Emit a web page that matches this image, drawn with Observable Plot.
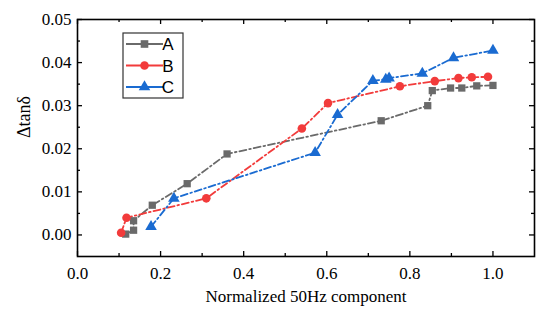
<!DOCTYPE html>
<html><head><meta charset="utf-8">
<script src="https://cdn.jsdelivr.net/npm/d3@7"></script>
<script src="https://cdn.jsdelivr.net/npm/@observablehq/plot@0.6"></script>
<style>body{margin:0;background:#fff}#chart{width:550px;height:320px}</style>
</head><body><div id="chart"></div>
<script>
// ---- data ----
const seriesNames = ["A", "B", "C"];
const seriesColors = ["#6a6a6a", "#f23b3b", "#1a6bd1"];
const seriesSymbols = ["square", "circle", "triangle"];

const xA = [0.116, 0.135, 0.135, 0.180, 0.264, 0.360, 0.731, 0.843, 0.854, 0.898, 0.925, 0.961, 1.000];
const yA = [0.0002, 0.0011, 0.0033, 0.0069, 0.0119, 0.0188, 0.0265, 0.0300, 0.0335, 0.0341, 0.0341, 0.0346, 0.0347];

const xB = [0.105, 0.118, 0.310, 0.540, 0.603, 0.776, 0.860, 0.917, 0.949, 0.988];
const yB = [0.0005, 0.0040, 0.0085, 0.0247, 0.0306, 0.0345, 0.0357, 0.0364, 0.0366, 0.0367];

const xC = [0.177, 0.232, 0.572, 0.626, 0.711, 0.742, 0.750, 0.830, 0.905, 1.000];
const yC = [0.0019, 0.0085, 0.0191, 0.0279, 0.0358, 0.0361, 0.0364, 0.0375, 0.0411, 0.0428];

const xMajorTicks = [0, 0.2, 0.4, 0.6, 0.8, 1.0];
const xMinorTicks = [0.1, 0.3, 0.5, 0.7, 0.9];
const yMajorTicks = [0, 0.01, 0.02, 0.03, 0.04, 0.05];
const yMinorTicks = [0.005, 0.015, 0.025, 0.035, 0.045];

const xTitle = "Normalized 50Hz component";
const yTitle = "Δtanδ";

// ---- build ----
const xDomain = [0, 1.1], yDomain = [-0.005, 0.05];
const W = 550, H = 320, mL = 77, mR = 16, mT = 19, mB = 64;
const pxX = (xDomain[1] - xDomain[0]) / (W - mL - mR);
const pxY = (yDomain[1] - yDomain[0]) / (H - mT - mB);
const majLen = 5, minLen = 3;

const toRows = (xs, ys, s) => xs.map((x, i) => ({x, y: ys[i], s}));
const sets = [toRows(xA, yA, "A"), toRows(xB, yB, "B"), toRows(xC, yC, "C")];

const serif = "Liberation Serif";
const dash = "7,3,1.6,3";

function tickRules(ticks, len) {
  return [
    Plot.ruleX(ticks, {x: d => d, y1: yDomain[0], y2: yDomain[0] + len * pxY, stroke: "black", strokeWidth: 1.3}),
    Plot.ruleX(ticks, {x: d => d, y1: yDomain[1], y2: yDomain[1] - len * pxY, stroke: "black", strokeWidth: 1.3})
  ];
}
function tickRulesY(ticks, len) {
  return [
    Plot.ruleY(ticks, {y: d => d, x1: xDomain[0], x2: xDomain[0] + len * pxX, stroke: "black", strokeWidth: 1.3}),
    Plot.ruleY(ticks, {y: d => d, x1: xDomain[1], x2: xDomain[1] - len * pxX, stroke: "black", strokeWidth: 1.3})
  ];
}

const marks = [];
sets.forEach((rows, i) => {
  marks.push(Plot.line(rows, {x: "x", y: "y", stroke: seriesColors[i], strokeWidth: 1.8, strokeDasharray: dash}));
});
sets.forEach((rows, i) => {
  const r = seriesSymbols[i] === "square" ? 4.1 : 4.3;
  marks.push(Plot.dot(rows, {x: "x", y: "y", symbol: seriesSymbols[i], fill: seriesColors[i], r, stroke: "none"}));
});
marks.push(
  ...tickRules(xMajorTicks, majLen), ...tickRules(xMinorTicks, minLen),
  ...tickRulesY(yMajorTicks, majLen), ...tickRulesY(yMinorTicks, minLen),
  Plot.frame({stroke: "black", strokeWidth: 1.6}),
  Plot.text(xMajorTicks, {x: d => d, y: yDomain[0], dy: 17, text: d => d3.format(".1f")(d), fontSize: 17, fontFamily: serif, fill: "black"}),
  Plot.text(yMajorTicks, {x: xDomain[0], y: d => d, dx: -6, textAnchor: "end", text: d => d3.format(".2f")(d), fontSize: 17, fontFamily: serif, fill: "black"}),
  Plot.text([xTitle], {text: d => d, frameAnchor: "bottom", dy: 45, fontSize: 17, fontFamily: serif, fill: "black"}),
  Plot.text([yTitle], {text: d => d, frameAnchor: "left", dx: -53, rotate: -90, fontSize: 18, fontFamily: serif, fill: "black"})
);

const chart = Plot.plot({
  width: W, height: H, marginLeft: mL, marginRight: mR, marginTop: mT, marginBottom: mB,
  x: {domain: xDomain, axis: null}, y: {domain: yDomain, axis: null},
  style: {background: "white", overflow: "visible"},
  marks
});
document.getElementById("chart").appendChild(chart);

// ---- legend ----
const svg = d3.select(chart);
const lg = svg.append("g").attr("transform", "translate(123,33)");
lg.append("rect").attr("width", 60).attr("height", 65).attr("fill", "white").attr("stroke", "#333").attr("stroke-width", 1.2);
seriesNames.forEach((name, i) => {
  const cy = 11 + i * 21.5;
  lg.append("line").attr("x1", 3).attr("x2", 40).attr("y1", cy).attr("y2", cy)
    .attr("stroke", seriesColors[i]).attr("stroke-width", 1.8);
  const sym = seriesSymbols[i] === "square" ? d3.symbolSquare : seriesSymbols[i] === "circle" ? d3.symbolCircle : d3.symbolTriangle;
  const r = 4.3;
  lg.append("path").attr("d", d3.symbol(sym, Math.PI * r * r)()).attr("transform", `translate(21.5,${cy})`).attr("fill", seriesColors[i]);
  lg.append("text").attr("x", 45).attr("y", cy).attr("dy", "0.36em").attr("font-size", 17)
    .attr("font-family", "Liberation Sans").attr("fill", "black").text(name);
});
</script>
</body></html>
